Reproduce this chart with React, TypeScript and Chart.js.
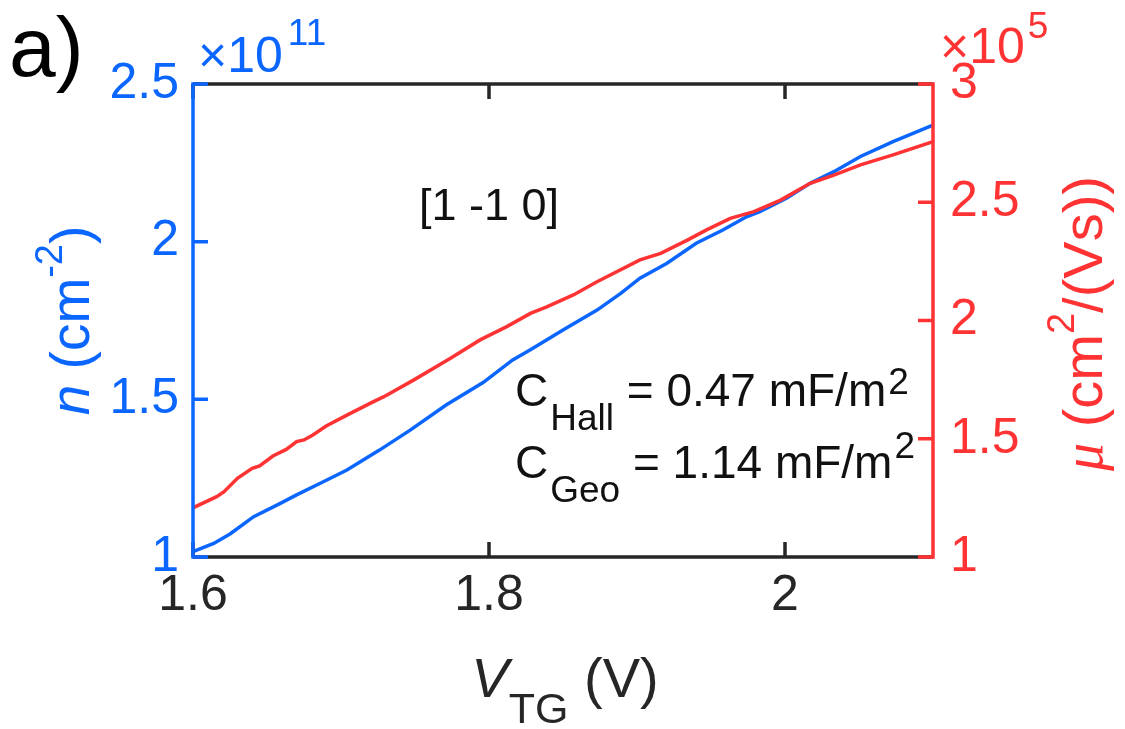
import React, { useEffect, useRef } from 'react';
import { Chart, registerables } from 'chart.js';

Chart.register(...registerables);

const BLUE = '#0a66ff';
const RED = '#ff3333';
const INK = '#262626';
const FONT = '"Liberation Sans", Arial, Helvetica, sans-serif';
const SERIF = '"Liberation Serif", "Times New Roman", serif';

// axis ticks
const xTicks = [1.6, 1.8, 2.0];
const nTicks = [1, 1.5, 2, 2.5];
const muTicks = [1, 1.5, 2, 2.5, 3];

// carrier density n (x 10^11 cm^-2) vs V_TG (V)
const nVtg = [1.600, 1.614, 1.625, 1.641, 1.659, 1.670, 1.686, 1.704, 1.726, 1.747, 1.771, 1.796, 1.816, 1.828, 1.850, 1.873, 1.889, 1.902, 1.920, 1.940, 1.958, 1.974, 1.983, 2.001, 2.017, 2.033, 2.051, 2.073, 2.100];
const nVals = [1.017, 1.043, 1.073, 1.128, 1.170, 1.197, 1.234, 1.276, 1.339, 1.403, 1.482, 1.553, 1.625, 1.657, 1.720, 1.783, 1.836, 1.884, 1.931, 1.995, 2.037, 2.079, 2.095, 2.138, 2.185, 2.222, 2.270, 2.317, 2.370];

// mobility mu (x 10^5 cm^2/(Vs)) vs V_TG (V)
const muVtg = [1.600, 1.616, 1.621, 1.630, 1.640, 1.645, 1.654, 1.663, 1.670, 1.675, 1.681, 1.690, 1.704, 1.722, 1.729, 1.749, 1.774, 1.794, 1.812, 1.828, 1.839, 1.857, 1.873, 1.902, 1.916, 1.934, 1.947, 1.963, 1.979, 1.997, 2.017, 2.033, 2.051, 2.073, 2.100];
const muVals = [1.208, 1.255, 1.276, 1.333, 1.375, 1.385, 1.427, 1.455, 1.488, 1.495, 1.516, 1.554, 1.600, 1.657, 1.678, 1.748, 1.840, 1.918, 1.974, 2.030, 2.058, 2.108, 2.164, 2.256, 2.284, 2.340, 2.383, 2.432, 2.460, 2.509, 2.580, 2.615, 2.658, 2.700, 2.756];

type Seg = { t: string; size: number; italic?: boolean; dy?: number; dx?: number; family?: string };

function drawRich(ctx: CanvasRenderingContext2D, segs: Seg[], x: number, y: number, color: string, align: 'left' | 'center', rot = 0) {
  ctx.save();
  ctx.translate(x, y);
  ctx.rotate(rot);
  ctx.fillStyle = color;
  ctx.textBaseline = 'alphabetic';
  ctx.textAlign = 'left';
  const fontOf = (s: Seg) => `${s.italic ? 'italic ' : ''}${s.size}px ${s.family || FONT}`;
  let w = 0;
  segs.forEach((s) => { ctx.font = fontOf(s); w += (s.dx || 0) + ctx.measureText(s.t).width; });
  let cx = align === 'center' ? -w / 2 : 0;
  segs.forEach((s) => {
    ctx.font = fontOf(s);
    cx += s.dx || 0;
    ctx.fillText(s.t, cx, s.dy || 0);
    cx += ctx.measureText(s.t).width;
  });
  ctx.restore();
}

const TL = 15;
const AXW = 3.5;

const framePlugin = {
  id: 'matlabFrame',
  afterDatasetsDraw(chart: any) {
    const { ctx, chartArea: a, scales } = chart;
    const x = scales.x, yL = scales.yL, yR = scales.yR;
    const h = AXW / 2;
    ctx.save();
    ctx.lineWidth = AXW;
    ctx.lineCap = 'butt';
    ctx.strokeStyle = INK;
    ctx.beginPath();
    ctx.moveTo(a.left, a.top); ctx.lineTo(a.right, a.top);
    ctx.moveTo(a.left, a.bottom); ctx.lineTo(a.right, a.bottom);
    x.ticks.forEach((t: any) => {
      const px = x.getPixelForValue(t.value);
      ctx.moveTo(px, a.bottom); ctx.lineTo(px, a.bottom - TL);
      ctx.moveTo(px, a.top); ctx.lineTo(px, a.top + TL);
    });
    ctx.stroke();

    ctx.strokeStyle = BLUE;
    ctx.beginPath();
    ctx.moveTo(a.left, a.top - h); ctx.lineTo(a.left, a.bottom + h);
    yL.ticks.forEach((t: any) => {
      const py = yL.getPixelForValue(t.value);
      ctx.moveTo(a.left, py); ctx.lineTo(a.left + TL, py);
    });
    ctx.stroke();

    ctx.strokeStyle = RED;
    ctx.beginPath();
    ctx.moveTo(a.right, a.top - h); ctx.lineTo(a.right, a.bottom + h);
    yR.ticks.forEach((t: any) => {
      const py = yR.getPixelForValue(t.value);
      ctx.moveTo(a.right, py); ctx.lineTo(a.right - TL, py);
    });
    ctx.stroke();
    ctx.restore();
  },
  afterDraw(chart: any) {
    const { ctx, chartArea: a } = chart;
    const cy = (a.top + a.bottom) / 2;
    const cx = (a.left + a.right) / 2;
    // panel label
    drawRich(ctx, [{ t: 'a)', size: 84 }], 9, 76, '#000', 'left');
    // exponents
    drawRich(ctx, [{ t: '×10', size: 50 }, { t: '11', size: 37, dy: -27, dx: 5 }], 198, 72, BLUE, 'left');
    drawRich(ctx, [{ t: '×10', size: 50 }, { t: '5', size: 37, dy: -25, dx: 3 }], 940, 63, RED, 'left');
    // axis titles
    drawRich(ctx, [
      { t: 'V', size: 56, italic: true },
      { t: 'TG', size: 43, dy: 26 },
      { t: ' (V)', size: 56 },
    ], cx + 2, 697, INK, 'center');
    drawRich(ctx, [
      { t: 'n', size: 55, italic: true },
      { t: ' (cm', size: 55 },
      { t: '-2', size: 38, dy: -27 },
      { t: ')', size: 55 },
    ], 89, cy, BLUE, 'center', -Math.PI / 2);
    drawRich(ctx, [
      { t: 'μ', size: 56, italic: true, family: SERIF },
      { t: ' (cm', size: 56 },
      { t: '2', size: 38, dy: -28 },
      { t: '/(Vs))', size: 56 },
    ], 1102, cy + 3, RED, 'center', -Math.PI / 2);
    // annotations
    drawRich(ctx, [{ t: '[1 -1 0]', size: 45 }], 419, 220, '#111', 'left');
    drawRich(ctx, [
      { t: 'C', size: 46 },
      { t: 'Hall', size: 37, dy: 24, dx: 2 },
      { t: ' = 0.47 mF/m', size: 46 },
      { t: '2', size: 37, dy: -12, dx: 2 },
    ], 515, 406, '#111', 'left');
    drawRich(ctx, [
      { t: 'C', size: 46 },
      { t: 'Geo', size: 37, dy: 24, dx: 2 },
      { t: ' = 1.14 mF/m', size: 46 },
      { t: '2', size: 37, dy: -20, dx: 2 },
    ], 515, 478, '#111', 'left');
  },
};

export default function App() {
  const ref = useRef<HTMLCanvasElement | null>(null);

  useEffect(() => {
    document.body.style.margin = '0';
    const canvas = ref.current;
    if (!canvas) return;
    const tickFont = { family: FONT, size: 50, lineHeight: 1.2 };
    const noGrid = { display: false, drawTicks: false, tickLength: 0 };
    const chart = new Chart(canvas, {
      type: 'line',
      data: {
        datasets: [
          {
            label: 'mu',
            data: muVtg.map((v, i) => ({ x: v, y: muVals[i] })),
            yAxisID: 'yR',
            borderColor: RED,
            borderWidth: 3.5,
            pointRadius: 0,
            tension: 0,
            fill: false,
          },
          {
            label: 'n',
            data: nVtg.map((v, i) => ({ x: v, y: nVals[i] })),
            yAxisID: 'yL',
            borderColor: BLUE,
            borderWidth: 3.5,
            pointRadius: 0,
            tension: 0,
            fill: false,
          },
        ],
      },
      options: {
        responsive: false,
        devicePixelRatio: 1,
        animation: false,
        events: [],
        layout: { padding: { left: 0, right: 0, top: 84, bottom: 0 } },
        plugins: { legend: { display: false }, tooltip: { enabled: false } },
        scales: {
          x: {
            type: 'linear',
            position: 'bottom',
            min: 1.6,
            max: 2.1,
            grid: noGrid,
            border: { display: false },
            afterBuildTicks: (s: any) => { s.ticks = xTicks.map((value) => ({ value })); },
            afterFit: (s: any) => { s.height = 172; },
            ticks: { font: tickFont, color: INK, padding: 9, maxRotation: 0, callback: (v: any) => String(v) },
          },
          yL: {
            type: 'linear',
            position: 'left',
            min: 1,
            max: 2.5,
            grid: noGrid,
            border: { display: false },
            afterBuildTicks: (s: any) => { s.ticks = nTicks.map((value) => ({ value })); },
            afterFit: (s: any) => { s.width = 193; },
            ticks: { font: tickFont, color: BLUE, padding: 14, callback: (v: any) => String(v) },
          },
          yR: {
            type: 'linear',
            position: 'right',
            min: 1,
            max: 3,
            grid: noGrid,
            border: { display: false },
            afterBuildTicks: (s: any) => { s.ticks = muTicks.map((value) => ({ value })); },
            afterFit: (s: any) => { s.width = 192; },
            ticks: { font: tickFont, color: RED, padding: 17, callback: (v: any) => String(v) },
          },
        },
      },
      plugins: [framePlugin],
    } as any);
    return () => chart.destroy();
  }, []);

  return (
    <div style={{ width: 1125, height: 729, background: '#fff' }}>
      <canvas ref={ref} width={1125} height={729} style={{ display: 'block' }} />
    </div>
  );
}
